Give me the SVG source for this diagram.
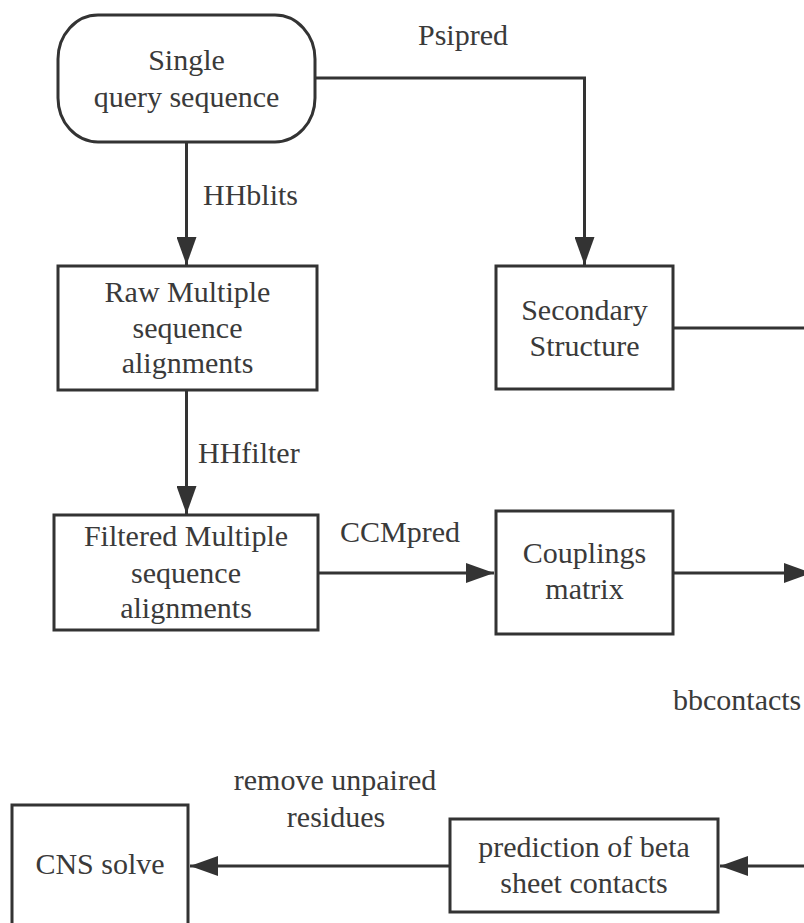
<svg xmlns="http://www.w3.org/2000/svg" width="804" height="923" viewBox="0 0 804 923">
<defs>
<style>
.n{fill:#fff;stroke:#333;stroke-width:3}
.c{fill:none;stroke:#333;stroke-width:3}
text{font-family:"Liberation Serif","Times New Roman",serif;font-size:30px;fill:#3a3a3a}
.m{text-anchor:middle}
</style>
<marker id="ah" viewBox="0 0 28 20" refX="28" refY="10" markerWidth="28" markerHeight="20" markerUnits="userSpaceOnUse" orient="auto">
<path d="M0,0 L28,10 L0,20 Z" fill="#333"/>
</marker>
</defs>
<rect width="804" height="923" fill="#fff"/>
<g id="connectors">
<path class="c" d="M186.5,142 V265" marker-end="url(#ah)"/>
<path class="c" d="M315,78 H584.5 V265" marker-end="url(#ah)"/>
<path class="c" d="M186.5,390 V514" marker-end="url(#ah)"/>
<path class="c" d="M318,573 H494" marker-end="url(#ah)"/>
<path class="c" d="M673,328 H810"/>
<path class="c" d="M673,573 H812" marker-end="url(#ah)"/>
<path class="c" d="M810,866 H720" marker-end="url(#ah)"/>
<path class="c" d="M450,866 H190" marker-end="url(#ah)"/>
<text x="203" y="205">HHblits</text>
<text x="418" y="45">Psipred</text>
<text x="198" y="463">HHfilter</text>
<text x="340" y="542">CCMpred</text>
<text x="673" y="710">bbcontacts</text>
<text class="m" x="335" y="790">remove unpaired</text>
<text class="m" x="336" y="827">residues</text>
</g>
<g id="single">
<rect class="n" x="58" y="15" width="257" height="127" rx="40" ry="44"/>
<text class="m" x="186.5" y="70">Single</text>
<text class="m" x="186.5" y="107">query sequence</text>
</g>
<g id="raw">
<rect class="n" x="58" y="266" width="259" height="124"/>
<text class="m" x="187.5" y="302">Raw Multiple</text>
<text class="m" x="187.5" y="338">sequence</text>
<text class="m" x="187.5" y="373">alignments</text>
</g>
<g id="secondary">
<rect class="n" x="496" y="266" width="177" height="123"/>
<text class="m" x="584.5" y="320">Secondary</text>
<text class="m" x="584.5" y="356">Structure</text>
</g>
<g id="filtered">
<rect class="n" x="54" y="515" width="264" height="115"/>
<text class="m" x="186" y="546">Filtered Multiple</text>
<text class="m" x="186" y="583">sequence</text>
<text class="m" x="186" y="618">alignments</text>
</g>
<g id="couplings">
<rect class="n" x="496" y="511" width="177" height="123"/>
<text class="m" x="584.5" y="563">Couplings</text>
<text class="m" x="584.5" y="599">matrix</text>
</g>
<g id="prediction">
<rect class="n" x="450" y="819" width="268" height="93"/>
<text class="m" x="584" y="857">prediction of beta</text>
<text class="m" x="584" y="893">sheet contacts</text>
</g>
<g id="cns">
<rect class="n" x="12" y="805" width="176" height="140"/>
<text class="m" x="100" y="874">CNS solve</text>
</g>
</svg>
